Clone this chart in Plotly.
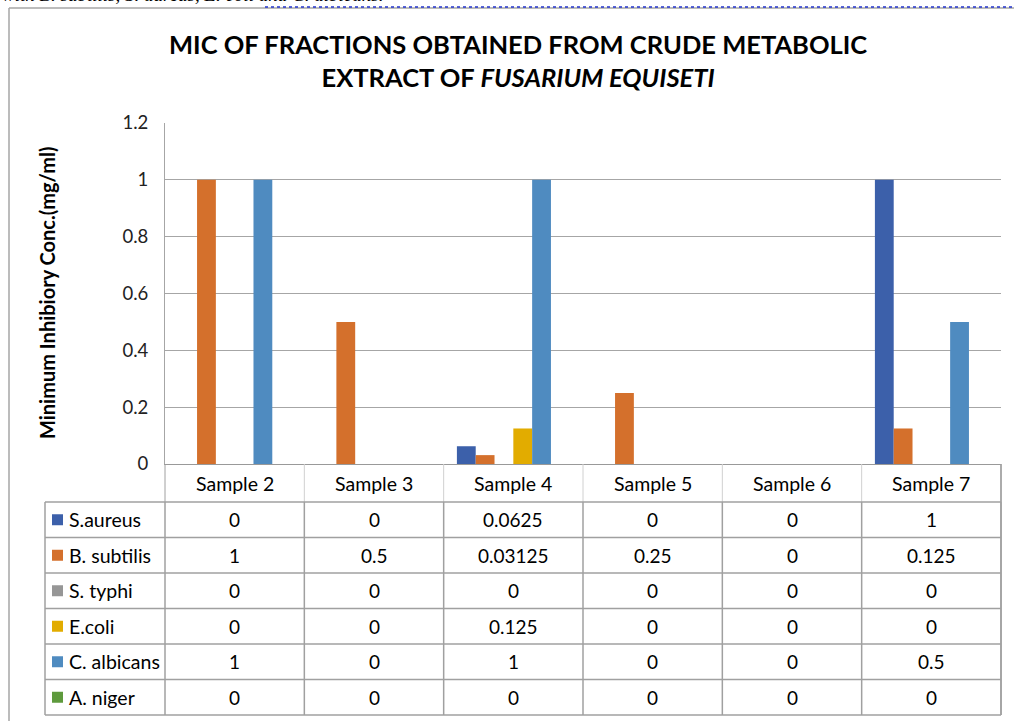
import plotly.graph_objects as go

categories = ["Sample 2", "Sample 3", "Sample 4", "Sample 5", "Sample 6", "Sample 7"]
series_names = ["S.aureus", "B. subtilis", "S. typhi", "E.coli", "C. albicans", "A. niger"]
s_aureus = [0, 0, 0.0625, 0, 0, 1]
b_subtilis = [1, 0.5, 0.03125, 0.25, 0, 0.125]
s_typhi = [0, 0, 0, 0, 0, 0]
e_coli = [0, 0, 0.125, 0, 0, 0]
c_albicans = [1, 0, 1, 0, 0, 0.5]
a_niger = [0, 0, 0, 0, 0, 0]
series_values = [s_aureus, b_subtilis, s_typhi, e_coli, c_albicans, a_niger]
colors = ["#3C60AA", "#D4702C", "#969696", "#E2AC00", "#4F8BC0", "#5E9A3D"]

W, H = 1014, 721
def px(x):
    return x / W
def py(y):
    return 1 - y / H

FONT = "Lato, 'Open Sans', sans-serif"
GRID = "#A6A6A6"
TBL = "#A0A0A0"

fig = go.Figure()
for name, vals, col in zip(series_names, series_values, colors):
    fig.add_trace(go.Bar(x=categories, y=vals, name=name, marker=dict(color=col, line=dict(width=0))))

plot_left, plot_right = 165, 1001
plot_top, plot_bottom = 123, 464
row_edges = [464, 502, 537.5, 573, 608.5, 644, 679.5, 715]
tbl_left = 45

fig.update_layout(
    width=W, height=H, autosize=False,
    margin=dict(l=0, r=0, t=0, b=0, autoexpand=False),
    paper_bgcolor="white", plot_bgcolor="white",
    showlegend=False,
    barmode="group", bargap=0.19, bargroupgap=0,
    font=dict(family=FONT, color="black"),
    xaxis=dict(domain=[px(plot_left), px(plot_right)], showticklabels=False, ticks="", automargin=False,
               showline=True, linecolor="#999999", linewidth=1, showgrid=False, fixedrange=True),
    yaxis=dict(domain=[py(plot_bottom), py(plot_top)], range=[0, 1.2], dtick=0.2, automargin=False,
               showgrid=True, gridcolor=GRID, gridwidth=1, zeroline=False,
               showline=True, linecolor=GRID, linewidth=1, ticks="",
               tickfont=dict(family=FONT, size=18.5, color="#222222"), ticklabelstandoff=12),
)

shapes = []
def line(x0, y0, x1, y1, color=TBL, width=1, dash="solid"):
    shapes.append(dict(type="line", xref="paper", yref="paper", x0=px(x0), y0=py(y0), x1=px(x1), y1=py(y1),
                       line=dict(color=color, width=width, dash=dash), layer="above"))

# outer chart border
line(9, 8, 9, 721, color="#A6A6A6", width=1.5)
line(9, 8, 1014, 8, color="#A6A6A6", width=1.5)
line(265, 7, 1014, 7, color="#2233CC", width=1.5, dash="dot")

# table lines
col_w = (plot_right - plot_left) / len(categories)
for k in range(len(categories) + 1):
    xk = plot_left + k * col_w
    line(xk, row_edges[0], xk, row_edges[1], color="#D0D0D0" if 0 < k < len(categories) else TBL)
    line(xk, row_edges[1], xk, row_edges[-1], color=TBL, width=1.5)
line(plot_right, row_edges[0], plot_right, row_edges[-1], color=TBL, width=1.5)
line(tbl_left, row_edges[1], tbl_left, row_edges[-1], color=TBL, width=1.5)
for y in row_edges[1:]:
    line(tbl_left, y, plot_right, y, color=TBL, width=1.5)

annotations = []
for c in categories:
    annotations.append(dict(x=c, xref="x", y=py((row_edges[0] + row_edges[1]) / 2), yref="paper",
                            text=c, showarrow=False, xanchor="center", yanchor="middle",
                            font=dict(size=19.5, family=FONT, color="black")))
for i, (name, vals, col) in enumerate(zip(series_names, series_values, colors)):
    yc = (row_edges[i + 1] + row_edges[i + 2]) / 2
    shapes.append(dict(type="rect", xref="paper", yref="paper", x0=px(52), x1=px(63),
                       y0=py(yc + 5.5), y1=py(yc - 5.5), fillcolor=col, line=dict(width=0)))
    annotations.append(dict(x=px(67), xref="paper", y=py(yc), yref="paper", text=name, showarrow=False,
                            xanchor="left", yanchor="middle", font=dict(size=19.5, family=FONT, color="black")))
    for c, v in zip(categories, vals):
        annotations.append(dict(x=c, xref="x", y=py(yc), yref="paper", text=f"{v:g}", showarrow=False,
                                xanchor="center", yanchor="middle", font=dict(size=19, family=FONT, color="black")))

annotations.append(dict(x=px(518), y=py(61), xref="paper", yref="paper", showarrow=False,
                        text="<b>MIC OF FRACTIONS OBTAINED FROM CRUDE METABOLIC<br>EXTRACT OF <i>FUSARIUM EQUISETI</i></b>",
                        xanchor="center", yanchor="middle", align="center",
                        font=dict(size=25.5, family=FONT, color="black")))
annotations.append(dict(x=px(47), y=py(293), xref="paper", yref="paper", showarrow=False, textangle=-90,
                        text="<b>Minimum Inhibiory Conc.(mg/ml)</b>", xanchor="center", yanchor="middle",
                        font=dict(size=20, family=FONT, color="black")))
annotations.append(dict(x=px(0), y=py(-6), xref="paper", yref="paper", showarrow=False,
                        text="<i>with B. subtilis, S. aureus, E. coli and C. albicans.</i>", xanchor="left",
                        yanchor="middle", font=dict(size=19, family="Liberation Serif, serif", color="black")))

fig.update_layout(shapes=shapes, annotations=annotations)
fig.write_html("out.html", config={"displayModeBar": False},
               post_script="document.body.style.margin='0';document.body.style.overflow='hidden';")
